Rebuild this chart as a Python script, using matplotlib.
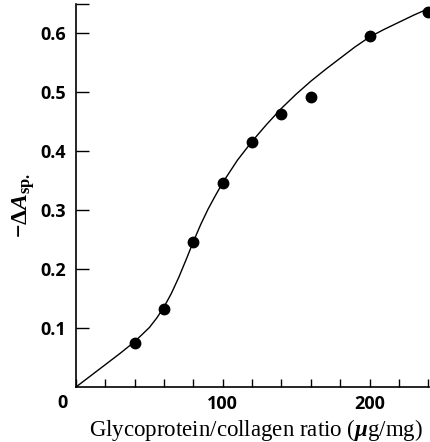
import matplotlib
matplotlib.use('Agg')
import matplotlib.pyplot as plt

# measured points
ratio = [40, 60, 80, 100, 120, 140, 160, 200, 240]
delta_a = [0.075, 0.133, 0.246, 0.346, 0.416, 0.463, 0.493, 0.595, 0.636]

# fitted curve
curve_x = [0, 10, 20, 30, 40, 50, 55, 60, 65, 70, 75, 80, 85, 90, 95, 100,
           110, 120, 130, 140, 150, 160, 170, 180, 190, 200, 210, 220, 230, 240]
curve_y = [0.0, 0.019, 0.038, 0.057, 0.077, 0.101, 0.117, 0.136, 0.159, 0.186,
           0.216, 0.247, 0.276, 0.302, 0.325, 0.347, 0.385, 0.417, 0.446, 0.473,
           0.497, 0.519, 0.539, 0.558, 0.577, 0.594, 0.607, 0.619, 0.631, 0.642]

x_ticks = [0, 20, 40, 60, 80, 100, 120, 140, 160, 180, 200, 220, 240]
x_labels = ['', '', '', '', '', '100', '', '', '', '', '200', '', '']
y_ticks = [0.1, 0.2, 0.3, 0.4, 0.5, 0.6, 0.65]
y_labels = ['0.1', '0.2', '0.3', '0.4', '0.5', '0.6', '']

plt.rcParams['mathtext.fontset'] = 'custom'
plt.rcParams['mathtext.rm'] = 'Liberation Serif:bold'
plt.rcParams['mathtext.it'] = 'Liberation Serif:italic:bold'

fig = plt.figure(figsize=(4.3, 4.42), dpi=100)
ax = fig.add_axes([76 / 430, 55 / 442, 353 / 430, 383 / 442])

ax.plot(curve_x, curve_y, color='black', lw=1.0)
ax.plot(ratio, delta_a, 'o', color='black', ms=7.5)

ax.set_xlim(0, 240.5)
ax.set_ylim(0, 0.65)

for s in ['top', 'right']:
    ax.spines[s].set_visible(False)
for s in ['left', 'bottom']:
    ax.spines[s].set_linewidth(1.2)

tick_font = dict(family='Open Sans', fontsize=13, fontweight='bold')
ax.set_xticks(x_ticks)
ax.set_xticklabels(x_labels, **tick_font)
ax.set_yticks(y_ticks)
ax.set_yticklabels(y_labels, **tick_font)
ax.tick_params(axis='x', direction='in', length=6, width=1.0, pad=6)
ax.tick_params(axis='y', direction='in', length=9, width=1.0, pad=7)

ax.text(-6, -0.028, '0', ha='right', va='center', **tick_font)

ax.set_xlabel(r'Glycoprotein/collagen ratio ($\mu$g/mg)', family='Liberation Serif',
              fontsize=16.5)
ax.xaxis.set_label_coords(0.511, -0.079)
ax.set_ylabel(r'$-\Delta A_{\mathrm{sp.}}$', fontsize=17)
ax.yaxis.set_label_coords(-0.11, 0.475)

fig.savefig('out.png', dpi=100)
